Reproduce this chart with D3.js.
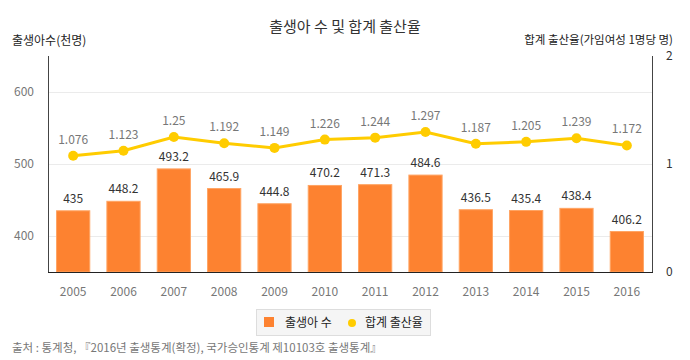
<!DOCTYPE html>
<html><head><meta charset="utf-8">
<script src="https://cdn.jsdelivr.net/npm/d3@7"></script>
<style>body{margin:0;background:#fff}svg{display:block}text{font-family:"Noto Sans CJK KR","Noto Sans",sans-serif}</style>
</head><body><svg id="c" width="690" height="360"></svg>
<script>
const years = ["2005","2006","2007","2008","2009","2010","2011","2012","2013","2014","2015","2016"];
const births = [435,448.2,493.2,465.9,444.8,470.2,471.3,484.6,436.5,435.4,438.4,406.2];
const rates = [1.076,1.123,1.25,1.192,1.149,1.226,1.244,1.297,1.187,1.205,1.239,1.172];
const leftTicks = [400,500,600];
const rightTicks = [0,1,2];
const birthLabels = ["435","448.2","493.2","465.9","444.8","470.2","471.3","484.6","436.5","435.4","438.4","406.2"];
const rateLabels = ["1.076","1.123","1.25","1.192","1.149","1.226","1.244","1.297","1.187","1.205","1.239","1.172"];

const svg = d3.select("#c");
const L=48, R=652, T=56, B=272;
const x = d3.scaleBand().domain(years).range([L,R]).paddingInner(0.34).paddingOuter(0.17);
const yL = d3.scaleLinear().domain([350,650]).range([B,T]);
const yR = d3.scaleLinear().domain([0,2]).range([B,T]);

// grid
svg.append("g").selectAll("line").data(leftTicks).join("line")
  .attr("x1",L).attr("x2",R).attr("y1",d=>yL(d)+0.5).attr("y2",d=>yL(d)+0.5)
  .attr("stroke","#ebebeb");

// bars
svg.append("g").selectAll("rect").data(births).join("rect")
  .attr("x",(d,i)=>x(years[i])).attr("width",x.bandwidth())
  .attr("y",d=>yL(d)).attr("height",d=>B-yL(d))
  .attr("fill","#fd8230").attr("stroke","#ffa463").attr("stroke-width",1);

svg.append("g").selectAll("text").data(births).join("text")
  .attr("x",(d,i)=>x(years[i])+x.bandwidth()/2).attr("y",d=>yL(d)-8)
  .attr("text-anchor","middle").attr("font-size",12).attr("fill","#333")
  .text((d,i)=>birthLabels[i]);

// line
const cx = i => x(years[i])+x.bandwidth()/2;
svg.append("path").datum(rates)
  .attr("d",d3.line().x((d,i)=>cx(i)).y(d=>yR(d)))
  .attr("fill","none").attr("stroke","#ffcc00").attr("stroke-width",3);
svg.append("g").selectAll("circle").data(rates).join("circle")
  .attr("cx",(d,i)=>cx(i)).attr("cy",d=>yR(d)).attr("r",5).attr("fill","#ffcc00");
svg.append("g").selectAll("text").data(rates).join("text")
  .attr("x",(d,i)=>cx(i)).attr("y",d=>yR(d)-12)
  .attr("text-anchor","middle").attr("font-size",12).attr("fill","#777")
  .text((d,i)=>rateLabels[i]);

// axes
const axL = d3.axisLeft(yL).tickValues(leftTicks).tickSize(0).tickPadding(14);
const gL = svg.append("g").attr("transform",`translate(${L},0)`).call(axL);
gL.select(".domain").attr("stroke","#444").attr("d",`M0.5,${T}V${B}`);
gL.selectAll("text").attr("fill","#777").attr("font-size",12).attr("font-family","'Noto Sans',sans-serif");

const axR = d3.axisRight(yR).tickValues(rightTicks).tickFormat(d3.format("d")).tickSize(0).tickPadding(14);
const gR = svg.append("g").attr("transform",`translate(${R},0)`).call(axR);
gR.select(".domain").attr("stroke","#444").attr("d",`M0.5,${T}V${B}`);
gR.selectAll("text").attr("fill","#333").attr("font-size",12).attr("font-family","'Noto Sans',sans-serif");

const axB = d3.axisBottom(x).tickSize(0).tickPadding(15);
const gB = svg.append("g").attr("transform",`translate(0,${B})`).call(axB);
gB.select(".domain").attr("stroke","#222").attr("d",`M${L},0.5H${R+1}`);
gB.selectAll("text").attr("fill","#777").attr("font-size",12).attr("font-family","'Noto Sans',sans-serif");

// titles
svg.append("text").attr("x",345).attr("y",32).attr("text-anchor","middle")
  .attr("font-size",15).attr("fill","#333").text("출생아 수 및 합계 출산율");
svg.append("text").attr("x",12).attr("y",45).attr("font-size",12).attr("fill","#222").text("출생아수(천명)");
svg.append("text").attr("x",673).attr("y",44).attr("text-anchor","end").attr("font-size",11.5).attr("fill","#222").text("합계 출산율(가임여성 1명당 명)");

// legend
const lg = svg.append("g");
lg.append("rect").attr("x",256.5).attr("y",309.5).attr("width",174).attr("height",26)
  .attr("fill","#f5f5f5").attr("stroke","#ddd");
lg.append("rect").attr("x",264).attr("y",317).attr("width",10).attr("height",10).attr("fill","#fd8230");
lg.append("text").attr("x",285).attr("y",327).attr("font-size",12).attr("fill","#222").text("출생아 수");
lg.append("circle").attr("cx",352).attr("cy",323).attr("r",4).attr("fill","#ffcc00");
lg.append("text").attr("x",365).attr("y",327).attr("font-size",12).attr("fill","#222").text("합계 출산율");

// source
svg.append("text").attr("x",12).attr("y",352).attr("font-size",11.5).attr("fill","#777")
  .text("출처 : 통계청, 『2016년 출생통계(확정), 국가승인통계 제10103호 출생통계』");
</script></body></html>
